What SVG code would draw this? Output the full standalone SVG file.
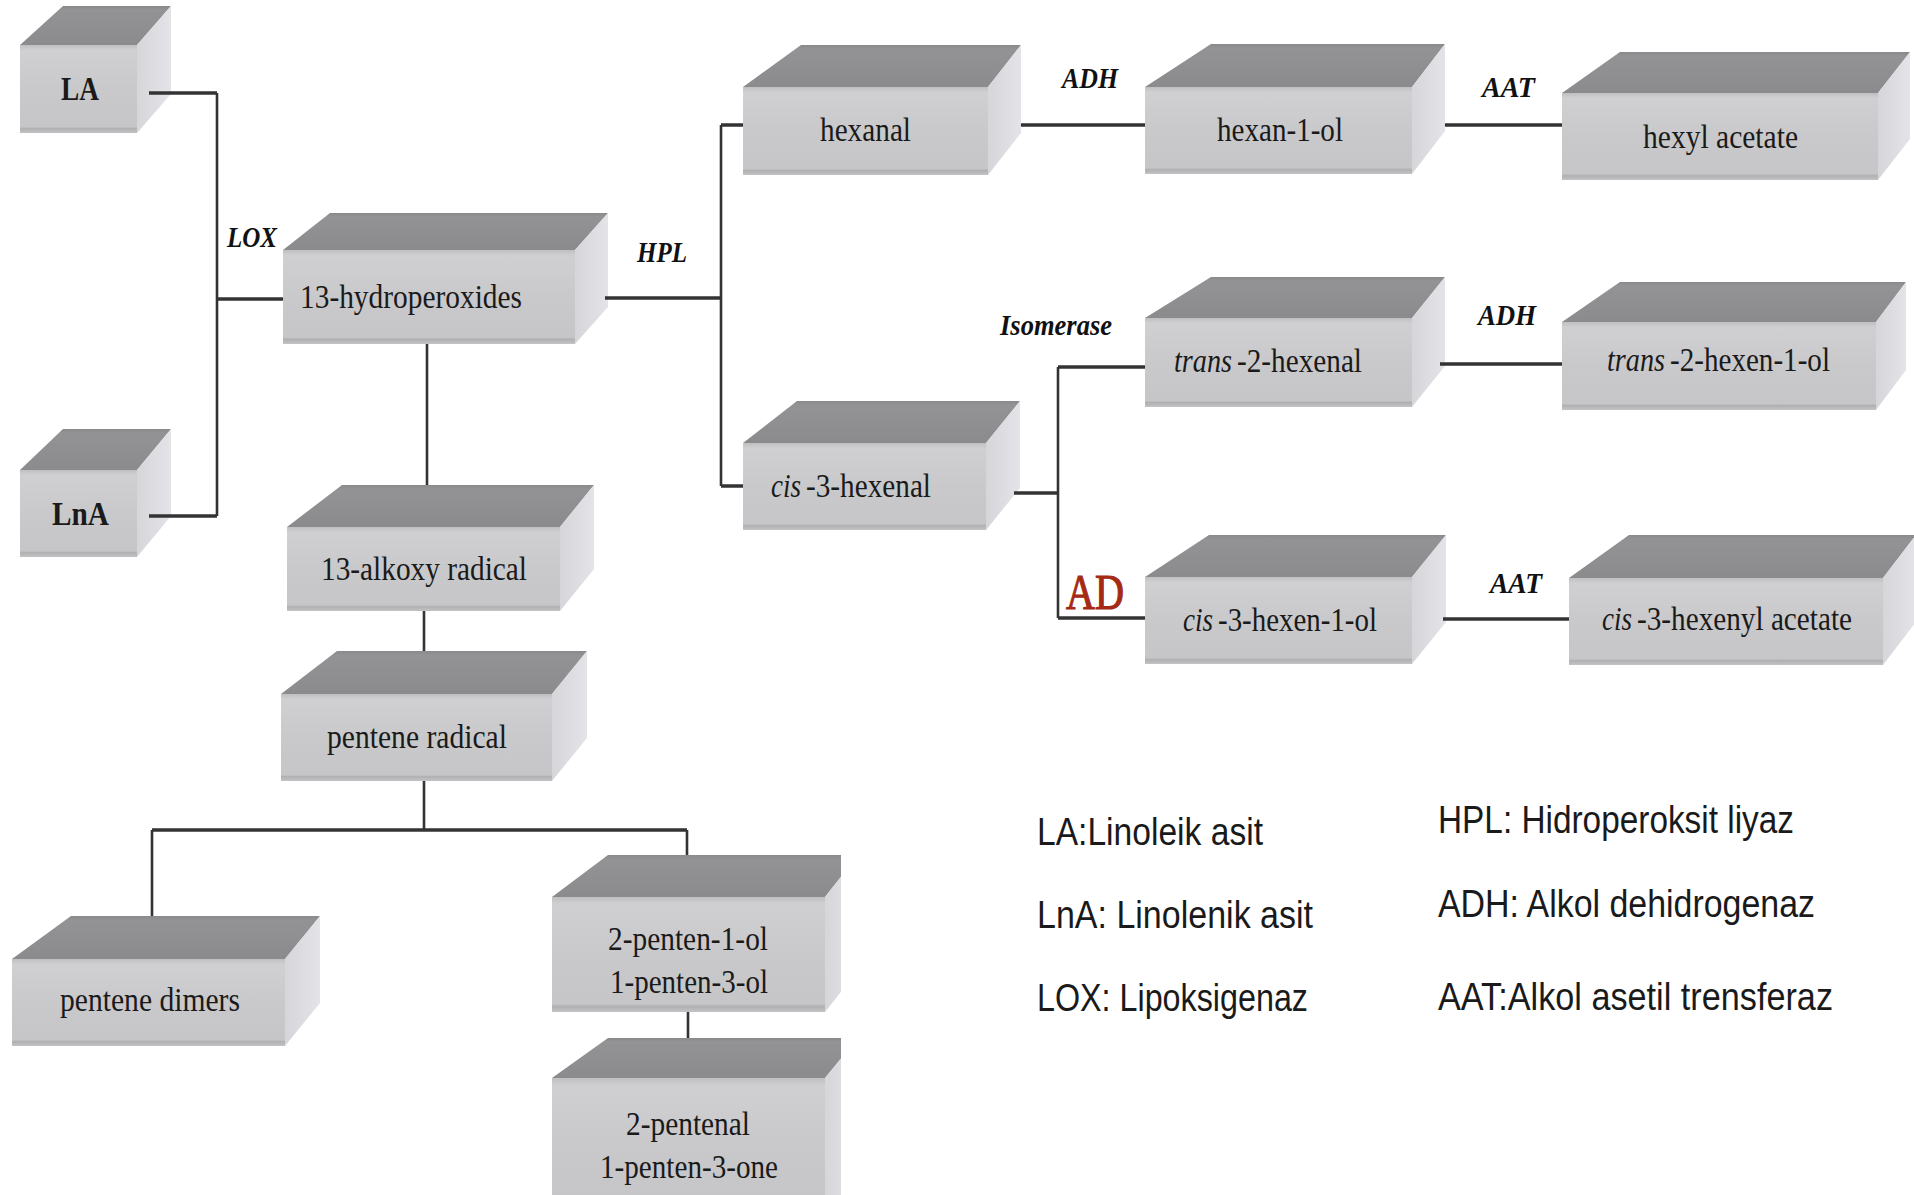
<svg xmlns="http://www.w3.org/2000/svg" width="1914" height="1195" viewBox="0 0 1914 1195">
<defs>
<linearGradient id="gTop" x1="0" y1="0" x2="0" y2="1">
<stop offset="0" stop-color="#8a8a8c"/><stop offset="0.1" stop-color="#939395"/><stop offset="1" stop-color="#8b8b8d"/>
</linearGradient>
<linearGradient id="gFront" x1="0" y1="0" x2="0" y2="1">
<stop offset="0" stop-color="#bfbfc1"/><stop offset="0.06" stop-color="#d0d0d2"/><stop offset="0.5" stop-color="#c9c9cb"/><stop offset="0.93" stop-color="#c6c6c8"/><stop offset="0.95" stop-color="#b0b0b2"/><stop offset="1" stop-color="#c4c4c6"/>
</linearGradient>
<linearGradient id="gSide" x1="0" y1="0" x2="1" y2="0">
<stop offset="0" stop-color="#d6d6da"/><stop offset="1" stop-color="#e4e4e8"/>
</linearGradient>
<clipPath id="clipPent"><rect x="0" y="800" width="841" height="400"/></clipPath>
<style>
.top{fill:url(#gTop)}
.front{fill:url(#gFront)}
.side{fill:url(#gSide)}
.lbl{font-family:"Liberation Serif","Times New Roman",serif;font-size:34px;fill:#1a1a1a}
.it{font-style:italic}
.bold{font-weight:bold}
.enz{font-family:"Liberation Serif","Times New Roman",serif;font-size:30px;font-weight:bold;font-style:italic;fill:#111}
.ad{font-family:"Liberation Serif","Times New Roman",serif;font-size:50px;fill:#a52a14;stroke:#a52a14;stroke-width:1.2}
.leg{font-family:"Liberation Sans",Arial,sans-serif;font-size:38px;fill:#1a1a1a}
.h{fill:none;stroke:#333;stroke-width:3.3}
.v{fill:none;stroke:#333;stroke-width:2.6}
</style>
</defs>
<rect x="0" y="0" width="1914" height="1195" fill="#ffffff"/>

<g id="n-la">
<polygon class="top" points="20,45 63,6 171,6 137,45"/>
<polygon class="side" points="137,45 171,6 171,94 137,133"/>
<rect class="front" x="20" y="45" width="117" height="88"/>
<text class="lbl bold" x="61" y="100" textLength="38" lengthAdjust="spacingAndGlyphs">LA</text>
</g>
<g id="n-lna">
<polygon class="top" points="20,470 63,429 171,429 137,470"/>
<polygon class="side" points="137,470 171,429 171,516 137,557"/>
<rect class="front" x="20" y="470" width="117" height="87"/>
<text class="lbl bold" x="52" y="525" textLength="57" lengthAdjust="spacingAndGlyphs">LnA</text>
</g>
<g id="n-hydroperoxides">
<polygon class="top" points="283,250 330,213 608,213 575,250"/>
<polygon class="side" points="575,250 608,213 608,307 575,344"/>
<rect class="front" x="283" y="250" width="292" height="94"/>
<text class="lbl" x="300" y="308" textLength="222" lengthAdjust="spacingAndGlyphs">13-hydroperoxides</text>
</g>
<g id="n-alkoxy">
<polygon class="top" points="287,527 342,485 594,485 560,527"/>
<polygon class="side" points="560,527 594,485 594,569 560,611"/>
<rect class="front" x="287" y="527" width="273" height="84"/>
<text class="lbl" x="321" y="580" textLength="206" lengthAdjust="spacingAndGlyphs">13-alkoxy radical</text>
</g>
<g id="n-pentene-radical">
<polygon class="top" points="281,694 337,651 587,651 552,694"/>
<polygon class="side" points="552,694 587,651 587,738 552,781"/>
<rect class="front" x="281" y="694" width="271" height="87"/>
<text class="lbl" x="327" y="748" textLength="180" lengthAdjust="spacingAndGlyphs">pentene radical</text>
</g>
<g id="n-pentene-dimers">
<polygon class="top" points="12,959 71,916 320,916 285,959"/>
<polygon class="side" points="285,959 320,916 320,1003 285,1046"/>
<rect class="front" x="12" y="959" width="273" height="87"/>
<text class="lbl" x="60" y="1011" textLength="180" lengthAdjust="spacingAndGlyphs">pentene dimers</text>
</g>
<g id="n-pentenol" clip-path="url(#clipPent)">
<polygon class="top" points="552,897 608,855 858,855 825,897"/>
<polygon class="side" points="825,897 858,855 858,970 825,1012"/>
<rect class="front" x="552" y="897" width="273" height="115"/>
<text class="lbl" x="608" y="950" textLength="160" lengthAdjust="spacingAndGlyphs">2-penten-1-ol</text>
<text class="lbl" x="610" y="993" textLength="158" lengthAdjust="spacingAndGlyphs">1-penten-3-ol</text>
</g>
<g id="n-pentenal" clip-path="url(#clipPent)">
<polygon class="top" points="552,1078 608,1038 858,1038 825,1078"/>
<polygon class="side" points="825,1078 858,1038 858,1200 825,1200"/>
<rect class="front" x="552" y="1078" width="273" height="130"/>
<text class="lbl" x="626" y="1135" textLength="124" lengthAdjust="spacingAndGlyphs">2-pentenal</text>
<text class="lbl" x="600" y="1178" textLength="178" lengthAdjust="spacingAndGlyphs">1-penten-3-one</text>
</g>
<g id="n-hexanal">
<polygon class="top" points="743,87 801,45 1021,45 988,87"/>
<polygon class="side" points="988,87 1021,45 1021,133 988,175"/>
<rect class="front" x="743" y="87" width="245" height="88"/>
<text class="lbl" x="820" y="141" textLength="91" lengthAdjust="spacingAndGlyphs">hexanal</text>
</g>
<g id="n-hexanol">
<polygon class="top" points="1145,87 1211,44 1445,44 1412,87"/>
<polygon class="side" points="1412,87 1445,44 1445,131 1412,174"/>
<rect class="front" x="1145" y="87" width="267" height="87"/>
<text class="lbl" x="1217" y="141" textLength="126" lengthAdjust="spacingAndGlyphs">hexan-1-ol</text>
</g>
<g id="n-hexyl-acetate">
<polygon class="top" points="1562,93 1620,52 1910,52 1878,93"/>
<polygon class="side" points="1878,93 1910,52 1910,139 1878,180"/>
<rect class="front" x="1562" y="93" width="316" height="87"/>
<text class="lbl" x="1643" y="148" textLength="155" lengthAdjust="spacingAndGlyphs">hexyl acetate</text>
</g>
<g id="n-trans-hexenal">
<polygon class="top" points="1145,318 1211,277 1445,277 1412,318"/>
<polygon class="side" points="1412,318 1445,277 1445,366 1412,407"/>
<rect class="front" x="1145" y="318" width="267" height="89"/>
<text class="lbl it" x="1174" y="372" textLength="58" lengthAdjust="spacingAndGlyphs">trans</text>
<text class="lbl" x="1237" y="372" textLength="125" lengthAdjust="spacingAndGlyphs">-2-hexenal</text>
</g>
<g id="n-trans-hexenol">
<polygon class="top" points="1562,322 1620,282 1906,282 1876,322"/>
<polygon class="side" points="1876,322 1906,282 1906,370 1876,410"/>
<rect class="front" x="1562" y="322" width="314" height="88"/>
<text class="lbl it" x="1607" y="371" textLength="58" lengthAdjust="spacingAndGlyphs">trans</text>
<text class="lbl" x="1670" y="371" textLength="160" lengthAdjust="spacingAndGlyphs">-2-hexen-1-ol</text>
</g>
<g id="n-cis-hexenal">
<polygon class="top" points="743,443 797,401 1020,401 986,443"/>
<polygon class="side" points="986,443 1020,401 1020,488 986,530"/>
<rect class="front" x="743" y="443" width="243" height="87"/>
<text class="lbl it" x="771" y="497" textLength="30" lengthAdjust="spacingAndGlyphs">cis</text>
<text class="lbl" x="806" y="497" textLength="125" lengthAdjust="spacingAndGlyphs">-3-hexenal</text>
</g>
<g id="n-cis-hexenol">
<polygon class="top" points="1145,577 1209,535 1446,535 1412,577"/>
<polygon class="side" points="1412,577 1446,535 1446,622 1412,664"/>
<rect class="front" x="1145" y="577" width="267" height="87"/>
<text class="lbl it" x="1183" y="631" textLength="30" lengthAdjust="spacingAndGlyphs">cis</text>
<text class="lbl" x="1218" y="631" textLength="159" lengthAdjust="spacingAndGlyphs">-3-hexen-1-ol</text>
</g>
<g id="n-cis-hexenyl-acetate">
<polygon class="top" points="1569,578 1629,535 1916,535 1883,578"/>
<polygon class="side" points="1883,578 1916,535 1916,622 1883,665"/>
<rect class="front" x="1569" y="578" width="314" height="87"/>
<text class="lbl it" x="1602" y="630" textLength="30" lengthAdjust="spacingAndGlyphs">cis</text>
<text class="lbl" x="1637" y="630" textLength="215" lengthAdjust="spacingAndGlyphs">-3-hexenyl acetate</text>
</g>

<g id="connectors">
<path class="h" d="M149,93 H217 M149,516 H217 M217,299 H283"/>
<path class="v" d="M217,93 V516"/>
<path class="h" d="M605,298 H721 M721,125 H743 M721,486 H743"/>
<path class="v" d="M721,125 V486"/>
<path class="v" d="M427,344 V485 M424,611 V651 M424,781 V830 M152,916 V830 M687,830 V855 M688,1012 V1038"/>
<path class="h" d="M152,830 H687"/>
<path class="h" d="M1021,125 H1145 M1445,125 H1562"/>
<path class="h" d="M1014,493 H1058 M1058,367 H1145 M1058,618 H1145"/>
<path class="v" d="M1058,367 V618"/>
<path class="h" d="M1440,364 H1562 M1443,619 H1569"/>
</g>

<g id="enzyme-labels">
<text class="enz" x="227" y="247" textLength="50" lengthAdjust="spacingAndGlyphs">LOX</text>
<text class="enz" x="637" y="262" textLength="50" lengthAdjust="spacingAndGlyphs">HPL</text>
<text class="enz" x="1062" y="88" textLength="56" lengthAdjust="spacingAndGlyphs">ADH</text>
<text class="enz" x="1482" y="97" textLength="53" lengthAdjust="spacingAndGlyphs">AAT</text>
<text class="enz" x="1000" y="335" textLength="112" lengthAdjust="spacingAndGlyphs">Isomerase</text>
<text class="enz" x="1478" y="325" textLength="58" lengthAdjust="spacingAndGlyphs">ADH</text>
<text class="enz" x="1490" y="593" textLength="52" lengthAdjust="spacingAndGlyphs">AAT</text>
<text class="ad" x="1066" y="609" textLength="58" lengthAdjust="spacingAndGlyphs">AD</text>
</g>

<g id="legend">
<text class="leg" x="1037" y="845" textLength="226" lengthAdjust="spacingAndGlyphs">LA:Linoleik asit</text>
<text class="leg" x="1037" y="928" textLength="276" lengthAdjust="spacingAndGlyphs">LnA: Linolenik asit</text>
<text class="leg" x="1037" y="1011" textLength="271" lengthAdjust="spacingAndGlyphs">LOX: Lipoksigenaz</text>
<text class="leg" x="1438" y="833" textLength="356" lengthAdjust="spacingAndGlyphs">HPL: Hidroperoksit liyaz</text>
<text class="leg" x="1438" y="917" textLength="377" lengthAdjust="spacingAndGlyphs">ADH: Alkol dehidrogenaz</text>
<text class="leg" x="1438" y="1010" textLength="395" lengthAdjust="spacingAndGlyphs">AAT:Alkol asetil trensferaz</text>
</g>
</svg>
